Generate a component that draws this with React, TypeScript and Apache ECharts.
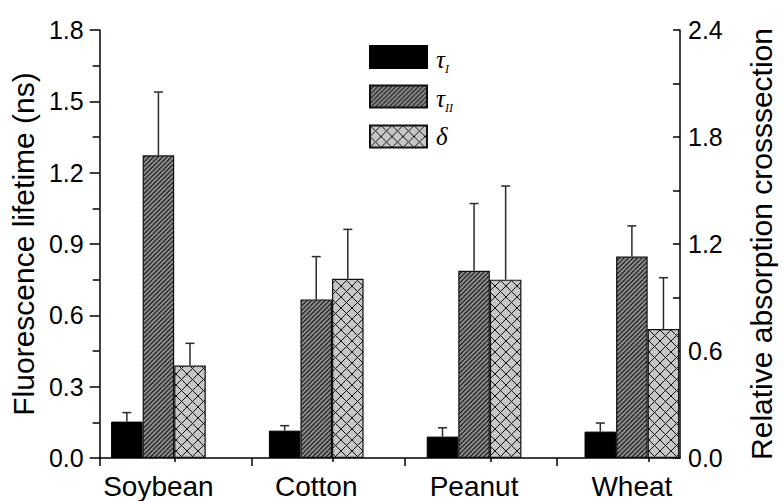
import { useEffect, useRef } from 'react';
import * as echarts from 'echarts';

// Sample categories and measured values (mean + positive error)
const categories = ['Soybean', 'Cotton', 'Peanut', 'Wheat'];
const tauI = [0.153, 0.115, 0.09, 0.111];
const tauIErr = [0.038, 0.021, 0.037, 0.036];
const tauII = [1.273, 0.667, 0.787, 0.847];
const tauIIErr = [0.266, 0.18, 0.283, 0.129];
const delta = [0.518, 1.005, 1.0, 0.723];
const deltaErr = [0.125, 0.277, 0.525, 0.288];

const seriesNames = ['τI', 'τII', 'δ'];
const legendSubscripts: Record<string, string> = { 'τI': 'I', 'τII': 'II' };

const lifetimeMax = 1.8;
const lifetimeStep = 0.3;
const crossMax = 2.4;
const crossLabelStep = 0.6;
const crossTickStep = 0.3;

const SANS = '"Liberation Sans", Arial, sans-serif';
const SERIF = '"Liberation Serif", "Times New Roman", serif';

// layout (px)
const W = 784;
const TOP = 30;
const BOTTOM = 43;
const FRAME_LEFT = 96;
const FRAME_RIGHT = 87;
const BAR_LEFT = 79.5;
const BAR_RIGHT = 73.2;
const BAND = (W - BAR_LEFT - BAR_RIGHT) / categories.length;
const FRAME_MAX = (W - FRAME_LEFT - FRAME_RIGHT) / BAND;

function makeHatch(): HTMLCanvasElement {
  const s = 9;
  const c = document.createElement('canvas');
  c.width = s;
  c.height = s;
  const ctx = c.getContext('2d')!;
  ctx.fillStyle = '#8a8a8a';
  ctx.fillRect(0, 0, s, s);
  ctx.strokeStyle = '#1a1a1a';
  ctx.lineWidth = 1.1;
  ctx.beginPath();
  for (const k of [-9, -4.5, 0, 4.5, 9]) {
    ctx.moveTo(k, s);
    ctx.lineTo(k + s, 0);
  }
  ctx.stroke();
  return c;
}

function makeCross(): HTMLCanvasElement {
  const s = 11;
  const c = document.createElement('canvas');
  c.width = s;
  c.height = s;
  const ctx = c.getContext('2d')!;
  ctx.fillStyle = '#c6c6c6';
  ctx.fillRect(0, 0, s, s);
  ctx.strokeStyle = '#111';
  ctx.lineWidth = 1;
  ctx.beginPath();
  for (const k of [-s, 0, s]) {
    ctx.moveTo(k, 0);
    ctx.lineTo(k + s, s);
    ctx.moveTo(k, s);
    ctx.lineTo(k + s, 0);
  }
  ctx.stroke();
  return c;
}

function errorSeries(name: string, values: number[], errs: number[], yAxisIndex: number, slot: number) {
  return {
    type: 'custom',
    name,
    xAxisIndex: 0,
    yAxisIndex,
    silent: true,
    z: 3,
    data: values.map((v, i) => [i, v, errs[i]]),
    encode: { x: 0, y: 1 },
    renderItem: (_params: any, api: any) => {
      const i = api.value(0);
      const v = api.value(1);
      const e = api.value(2);
      const band = api.size([1, 0])[0];
      const base = api.coord([i, v]);
      const top = api.coord([i, v + e]);
      const x = base[0] + slot * band * 0.2;
      const cap = 4.5;
      const style = { stroke: '#2a2a2a', lineWidth: 1.5 };
      return {
        type: 'group',
        children: [
          { type: 'line', shape: { x1: x, y1: base[1], x2: x, y2: top[1] }, style },
          { type: 'line', shape: { x1: x - cap, y1: top[1], x2: x + cap, y2: top[1] }, style },
        ],
      };
    },
  };
}

export default function App() {
  const ref = useRef<HTMLDivElement>(null);

  useEffect(() => {
    if (!ref.current) return;
    const chart = echarts.init(ref.current, undefined, { renderer: 'svg' });

    const hatch = { image: makeHatch(), repeat: 'repeat' };
    const cross = { image: makeCross(), repeat: 'repeat' };

    const gridBox = { top: TOP, bottom: BOTTOM };

    chart.setOption({
      animation: false,
      backgroundColor: '#fff',
      grid: [
        { ...gridBox, left: BAR_LEFT, right: BAR_RIGHT },
        { ...gridBox, left: FRAME_LEFT, right: FRAME_RIGHT },
        { ...gridBox, left: FRAME_LEFT, right: FRAME_RIGHT },
      ],
      legend: {
        data: seriesNames,
        orient: 'vertical',
        left: 364,
        top: 40,
        itemWidth: 57,
        itemHeight: 22,
        itemGap: 10,
        icon: 'rect',
        selectedMode: false,
        formatter: (name: string) =>
          legendSubscripts[name] ? `{g|τ}{s|${legendSubscripts[name]}}` : `{d|${name}}`,
        textStyle: {
          color: '#000',
          fontFamily: SERIF,
          fontStyle: 'italic',
          fontSize: 25,
          rich: {
            g: { fontFamily: SERIF, fontStyle: 'italic', fontSize: 25, color: '#000', padding: [10, 0, 6, 4] },
            d: { fontFamily: SERIF, fontStyle: 'italic', fontSize: 25, color: '#000', padding: [8, 0, 8, 4] },
            s: { fontFamily: SERIF, fontStyle: 'italic', fontSize: 12, color: '#000', padding: [26, 0, 3, 0] },
          },
        },
      },
      xAxis: [
        {
          type: 'category',
          gridIndex: 0,
          data: categories,
          axisLine: { show: false },
          axisTick: { show: false },
          axisLabel: { fontFamily: SANS, fontSize: 28, color: '#000', margin: 14 },
        },
        {
          type: 'value',
          gridIndex: 1,
          min: 0,
          max: FRAME_MAX,
          interval: 1,
          axisLine: { show: true, lineStyle: { color: '#000', width: 1.5 } },
          axisTick: { show: true, length: 8, customValues: [0, 1, 2, 3], lineStyle: { color: '#000', width: 1.5 } },
          axisLabel: { show: false },
          splitLine: { show: false },
        },
        {
          type: 'value',
          gridIndex: 2,
          min: 0,
          max: FRAME_MAX,
          interval: 0.5,
          axisLine: { show: false },
          axisTick: { show: true, length: 4, customValues: [0.5, 1.5, 2.5, 3.5], lineStyle: { color: '#000', width: 1.5 } },
          axisLabel: { show: false },
          splitLine: { show: false },
        },
      ],
      yAxis: [
        { type: 'value', gridIndex: 0, min: 0, max: lifetimeMax, show: false },
        { type: 'value', gridIndex: 0, min: 0, max: crossMax, show: false, position: 'right' },
        {
          type: 'value',
          gridIndex: 1,
          min: 0,
          max: lifetimeMax,
          interval: lifetimeStep,
          position: 'left',
          name: 'Fluorescence lifetime (ns)',
          nameLocation: 'middle',
          nameRotate: 90,
          nameGap: 56,
          nameTextStyle: { fontFamily: SANS, fontSize: 30, color: '#000' },
          axisLine: { show: true, lineStyle: { color: '#000', width: 1.5 } },
          axisTick: { show: true, length: 10, lineStyle: { color: '#000', width: 1.5 } },
          minorTick: { show: true, splitNumber: 2, length: 7, lineStyle: { color: '#000', width: 1.5 } },
          axisLabel: {
            fontFamily: SANS,
            fontSize: 25,
            color: '#000',
            margin: 16,
            formatter: (v: number) => v.toFixed(1),
          },
          splitLine: { show: false },
        },
        {
          type: 'value',
          gridIndex: 1,
          min: 0,
          max: crossMax,
          interval: crossTickStep,
          position: 'right',
          name: 'Relative absorption crosssection',
          nameLocation: 'middle',
          nameRotate: 90,
          nameGap: 66,
          nameTextStyle: { fontFamily: SANS, fontSize: 30, color: '#000' },
          axisLine: { show: true, lineStyle: { color: '#000', width: 1.5 } },
          axisTick: { show: true, inside: true, length: 7, lineStyle: { color: '#000', width: 1.5 } },
          axisLabel: {
            fontFamily: SANS,
            fontSize: 25,
            color: '#000',
            margin: 8,
            formatter: (v: number) => {
              const r = v / crossLabelStep;
              return Math.abs(r - Math.round(r)) < 1e-6 ? v.toFixed(1) : '';
            },
          },
          splitLine: { show: false },
        },
        { type: 'value', gridIndex: 2, min: 0, max: 1, show: false },
      ],
      series: [
        {
          type: 'bar',
          name: seriesNames[0],
          xAxisIndex: 0,
          yAxisIndex: 0,
          data: tauI,
          barWidth: '20%',
          barGap: '0%',
          itemStyle: { color: '#000', borderColor: '#000', borderWidth: 1 },
        },
        {
          type: 'bar',
          name: seriesNames[1],
          xAxisIndex: 0,
          yAxisIndex: 0,
          data: tauII,
          barWidth: '20%',
          barGap: '0%',
          itemStyle: { color: hatch, borderColor: '#111', borderWidth: 1.2 },
        },
        {
          type: 'bar',
          name: seriesNames[2],
          xAxisIndex: 0,
          yAxisIndex: 1,
          data: delta,
          barWidth: '20%',
          barGap: '0%',
          itemStyle: { color: cross, borderColor: '#111', borderWidth: 1.2 },
        },
        errorSeries('τI error', tauI, tauIErr, 0, -1),
        errorSeries('τII error', tauII, tauIIErr, 0, 0),
        errorSeries('δ error', delta, deltaErr, 1, 1),
      ],
    } as any);

    return () => chart.dispose();
  }, []);

  return (
    <div
      ref={ref}
      style={{ position: 'fixed', left: 0, top: 0, width: W, height: 501, background: '#fff' }}
    />
  );
}
